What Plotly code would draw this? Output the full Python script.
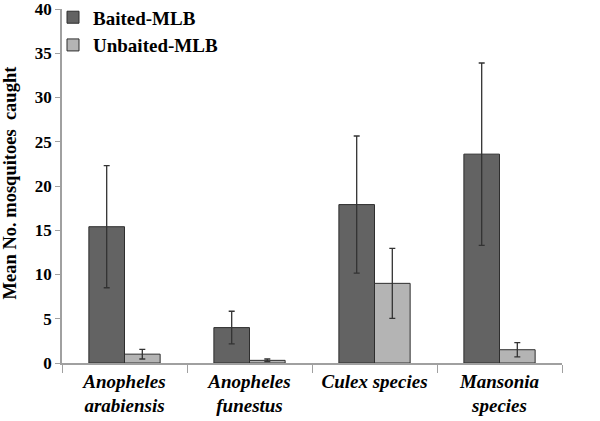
import plotly.graph_objects as go

categories = ["<i>Anopheles<br>arabiensis</i>", "<i>Anopheles<br>funestus</i>",
              "<i>Culex species</i>", "<i>Mansonia<br>species</i>"]
baited = [15.4, 4.0, 17.9, 23.6]
baited_err = [6.9, 1.85, 7.75, 10.3]
unbaited = [1.0, 0.3, 9.0, 1.5]
unbaited_err = [0.55, 0.15, 3.95, 0.8]
y_ticks = [0, 5, 10, 15, 20, 25, 30, 35, 40]

FONT = "Liberation Serif"

fig = go.Figure()
fig.add_trace(go.Bar(
    name="<b>Baited-MLB</b>", x=categories, y=baited,
    marker=dict(color="#636363", line=dict(color="#2e2e2e", width=1)),
    error_y=dict(type="data", array=baited_err, visible=True,
                 color="#333333", thickness=1.3, width=3),
))
fig.add_trace(go.Bar(
    name="<b>Unbaited-MLB</b>", x=categories, y=unbaited,
    marker=dict(color="#b4b4b4", line=dict(color="#2e2e2e", width=1)),
    error_y=dict(type="data", array=unbaited_err, visible=True,
                 color="#333333", thickness=1.3, width=3),
))

fig.update_layout(
    width=600, height=421,
    margin=dict(l=62, r=38, t=9, b=58, autoexpand=False),
    plot_bgcolor="white", paper_bgcolor="white",
    barmode="group", bargap=0.43, bargroupgap=0,
    font=dict(family=FONT, color="black"),
    showlegend=True,
    legend=dict(x=-0.018, y=1.03, xanchor="left", yanchor="top",
                font=dict(family=FONT, size=19, color="black"),
                bgcolor="rgba(0,0,0,0)", itemwidth=30, tracegroupgap=0),
    annotations=[dict(
        text="<b>Mean No. mosquitoes  caught</b>", textangle=-90,
        x=-0.104, y=0.51, xref="paper", yref="paper",
        xanchor="center", yanchor="middle", showarrow=False,
        font=dict(family=FONT, size=18.5, color="black"),
    )],
)
fig.update_xaxes(
    showline=True, linecolor="#a0a0a0", linewidth=1.5,
    ticks="outside", tickson="boundaries", ticklen=8, tickcolor="#a0a0a0",
    tickfont=dict(family=FONT, size=19, color="black"),
    tickprefix="<b>", ticksuffix="</b>",
    showgrid=False, automargin=False,
)
fig.update_yaxes(
    range=[0, 40], tickmode="array", tickvals=y_ticks,
    showline=True, linecolor="#a0a0a0", linewidth=1.5,
    ticks="outside", ticklen=5, tickcolor="#a0a0a0",
    tickfont=dict(family=FONT, size=17, color="black", weight="bold"),
    ticklabeloverflow="allow",
    showgrid=False, zeroline=False, automargin=False,
)

# remove the browser's default 8px body margin so the figure fills the window
fig.write_html("out.html", config={"displayModeBar": False},
               post_script="document.body.style.margin='0px';")
